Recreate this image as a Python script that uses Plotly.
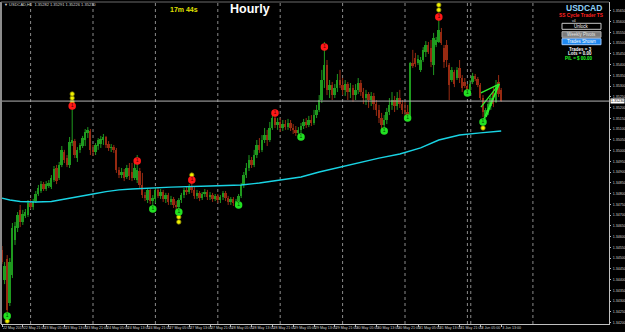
import plotly.graph_objects as go

# ---------------- data (USDCAD, H1) ----------------
bar_index = list(range(193))

open_ = [1.34538,1.34398,1.34496,1.34291,1.34421,1.34584,1.34640,1.34724,1.34668,1.34696,
1.34700,1.34756,1.34737,1.34765,1.34798,1.34812,1.34844,1.34821,1.34835,1.34830,
1.34863,1.34919,1.34872,1.34933,1.34993,1.34965,1.34933,1.35035,1.35044,1.34965,
1.35003,1.35021,1.35049,1.35082,1.35091,1.35003,1.34993,1.35021,1.35030,1.35049,
1.35063,1.35030,1.35012,1.35016,1.35003,1.34910,1.34886,1.34900,1.34877,1.34919,
1.34900,1.34872,1.34863,1.34905,1.34840,1.34793,1.34770,1.34817,1.34765,1.34775,
1.34817,1.34789,1.34807,1.34775,1.34793,1.34761,1.34775,1.34747,1.34737,1.34770,
1.34793,1.34817,1.34807,1.34835,1.34817,1.34789,1.34803,1.34779,1.34798,1.34807,
1.34784,1.34793,1.34775,1.34789,1.34770,1.34784,1.34803,1.34779,1.34761,1.34775,
1.34756,1.34765,1.34789,1.34840,1.34886,1.34919,1.34956,1.34933,1.34979,1.35026,
1.35003,1.35049,1.35072,1.35049,1.35105,1.35151,1.35119,1.35133,1.35105,1.35123,
1.35109,1.35128,1.35105,1.35096,1.35082,1.35096,1.35114,1.35133,1.35119,1.35142,
1.35128,1.35165,1.35189,1.35235,1.35328,1.35398,1.35282,1.35305,1.35258,1.35291,
1.35328,1.35305,1.35282,1.35309,1.35272,1.35291,1.35258,1.35282,1.35314,1.35272,
1.35244,1.35263,1.35235,1.35254,1.35216,1.35189,1.35151,1.35119,1.35142,1.35179,
1.35212,1.35235,1.35207,1.35244,1.35216,1.35189,1.35179,1.35165,1.35407,1.35430,
1.35407,1.35375,1.35421,1.35458,1.35491,1.35477,1.35398,1.35491,1.35505,1.35551,
1.35477,1.35491,1.35398,1.35328,1.35365,1.35337,1.35384,1.35337,1.35319,1.35300,
1.35282,1.35319,1.35347,1.35333,1.35305,1.35244,1.35161,1.35179,1.35207,1.35272,
1.35226,1.35319,1.35282]

high = [1.34556,1.34482,1.34514,1.34500,1.34663,1.34668,1.34714,1.34747,1.34724,1.34728,
1.34770,1.34775,1.34775,1.34812,1.34840,1.34858,1.34854,1.34858,1.34863,1.34886,
1.34928,1.34933,1.34947,1.35021,1.35003,1.34979,1.35063,1.35207,1.35054,1.35016,
1.35035,1.35068,1.35100,1.35109,1.35100,1.35026,1.35035,1.35058,1.35068,1.35077,
1.35068,1.35044,1.35030,1.35026,1.35012,1.34923,1.34919,1.34914,1.34933,1.34942,
1.34942,1.34956,1.34979,1.34919,1.34896,1.34807,1.34826,1.34821,1.34793,1.34826,
1.34830,1.34821,1.34817,1.34803,1.34803,1.34789,1.34784,1.34765,1.34779,1.34803,
1.34826,1.34835,1.34844,1.34858,1.34830,1.34817,1.34812,1.34807,1.34821,1.34817,
1.34807,1.34803,1.34798,1.34798,1.34793,1.34812,1.34812,1.34789,1.34784,1.34784,
1.34775,1.34798,1.34849,1.34900,1.34942,1.34979,1.34970,1.35003,1.35049,1.35058,
1.35072,1.35105,1.35096,1.35133,1.35179,1.35189,1.35151,1.35151,1.35142,1.35142,
1.35147,1.35142,1.35123,1.35114,1.35109,1.35128,1.35147,1.35151,1.35161,1.35165,
1.35189,1.35212,1.35258,1.35375,1.35505,1.35421,1.35328,1.35319,1.35309,1.35356,
1.35375,1.35337,1.35328,1.35319,1.35314,1.35305,1.35309,1.35337,1.35328,1.35291,
1.35282,1.35272,1.35272,1.35268,1.35235,1.35212,1.35175,1.35165,1.35198,1.35244,
1.35272,1.35254,1.35272,1.35282,1.35235,1.35226,1.35212,1.35412,1.35468,1.35454,
1.35444,1.35435,1.35481,1.35509,1.35505,1.35514,1.35547,1.35528,1.35607,1.35570,
1.35491,1.35514,1.35407,1.35388,1.35375,1.35388,1.35421,1.35351,1.35337,1.35309,
1.35328,1.35361,1.35356,1.35342,1.35314,1.35258,1.35198,1.35226,1.35254,1.35295,
1.35328,1.35351,1.35291]

low = [1.34472,1.34379,1.34245,1.34277,1.34407,1.34561,1.34621,1.34644,1.34654,1.34686,
1.34691,1.34728,1.34724,1.34756,1.34789,1.34803,1.34812,1.34812,1.34826,1.34821,
1.34854,1.34844,1.34863,1.34923,1.34942,1.34923,1.34919,1.35021,1.34965,1.34947,
1.34989,1.35012,1.35021,1.35058,1.34979,1.34975,1.34979,1.35003,1.35012,1.35026,
1.35012,1.34998,1.34993,1.34989,1.34896,1.34872,1.34872,1.34858,1.34868,1.34863,
1.34858,1.34863,1.34849,1.34826,1.34779,1.34765,1.34756,1.34751,1.34742,1.34756,
1.34779,1.34775,1.34761,1.34756,1.34747,1.34747,1.34733,1.34724,1.34719,1.34756,
1.34779,1.34793,1.34798,1.34803,1.34775,1.34775,1.34765,1.34770,1.34784,1.34770,
1.34770,1.34761,1.34765,1.34756,1.34756,1.34770,1.34765,1.34747,1.34747,1.34742,
1.34742,1.34751,1.34779,1.34826,1.34872,1.34905,1.34919,1.34923,1.34965,1.34989,
1.34993,1.35035,1.35021,1.35040,1.35096,1.35105,1.35096,1.35086,1.35091,1.35096,
1.35096,1.35091,1.35077,1.35068,1.35068,1.35077,1.35100,1.35105,1.35109,1.35114,
1.35119,1.35151,1.35179,1.35221,1.35291,1.35258,1.35244,1.35235,1.35244,1.35272,
1.35291,1.35258,1.35254,1.35235,1.35244,1.35226,1.35235,1.35263,1.35254,1.35216,
1.35212,1.35198,1.35207,1.35189,1.35161,1.35128,1.35096,1.35100,1.35123,1.35165,
1.35189,1.35179,1.35189,1.35198,1.35170,1.35161,1.35156,1.35156,1.35384,1.35388,
1.35398,1.35365,1.35412,1.35435,1.35449,1.35388,1.35351,1.35481,1.35500,1.35491,
1.35384,1.35388,1.35235,1.35319,1.35295,1.35328,1.35314,1.35272,1.35291,1.35263,
1.35272,1.35309,1.35323,1.35295,1.35235,1.35156,1.35147,1.35165,1.35189,1.35202,
1.35221,1.35249,1.35226]

close = [1.34482,1.34463,1.34259,1.34482,1.34640,1.34649,1.34700,1.34668,1.34705,1.34714,
1.34756,1.34737,1.34761,1.34798,1.34826,1.34844,1.34821,1.34844,1.34849,1.34872,
1.34914,1.34858,1.34933,1.35003,1.34956,1.34933,1.35040,1.35049,1.34979,1.35003,
1.35026,1.35058,1.35086,1.35096,1.35003,1.34993,1.35026,1.35049,1.35054,1.35063,
1.35026,1.35012,1.35016,1.35003,1.34910,1.34886,1.34900,1.34872,1.34919,1.34882,
1.34872,1.34919,1.34910,1.34840,1.34793,1.34779,1.34817,1.34765,1.34779,1.34817,
1.34789,1.34807,1.34775,1.34793,1.34761,1.34775,1.34747,1.34737,1.34770,1.34793,
1.34817,1.34807,1.34835,1.34817,1.34789,1.34803,1.34779,1.34798,1.34807,1.34784,
1.34793,1.34775,1.34789,1.34770,1.34784,1.34803,1.34779,1.34761,1.34775,1.34756,
1.34765,1.34789,1.34840,1.34886,1.34919,1.34956,1.34933,1.34979,1.35026,1.35003,
1.35049,1.35072,1.35049,1.35105,1.35151,1.35119,1.35133,1.35105,1.35123,1.35109,
1.35128,1.35105,1.35096,1.35082,1.35096,1.35114,1.35133,1.35119,1.35142,1.35128,
1.35165,1.35189,1.35235,1.35328,1.35398,1.35282,1.35305,1.35258,1.35291,1.35328,
1.35305,1.35282,1.35309,1.35272,1.35291,1.35258,1.35282,1.35314,1.35272,1.35244,
1.35263,1.35235,1.35254,1.35216,1.35189,1.35151,1.35119,1.35142,1.35179,1.35212,
1.35235,1.35207,1.35244,1.35216,1.35189,1.35179,1.35165,1.35407,1.35393,1.35402,
1.35426,1.35421,1.35468,1.35491,1.35458,1.35412,1.35523,1.35514,1.35561,1.35500,
1.35412,1.35421,1.35305,1.35375,1.35309,1.35375,1.35337,1.35291,1.35300,1.35282,
1.35309,1.35347,1.35333,1.35305,1.35244,1.35179,1.35189,1.35216,1.35244,1.35216,
1.35305,1.35263,1.35230]

# moving average (cyan) read at a few bars
ma_bars = [0, 3, 7, 13, 19, 25, 30, 35, 40, 45, 50, 56, 65, 80, 92, 99, 107, 115,
           122, 130, 138, 145, 153, 161, 168, 176, 184, 192]
ma_values = [1.34779, 1.34770, 1.34763, 1.34761, 1.34763, 1.34775, 1.34785, 1.34798,
             1.34809, 1.34817, 1.34821, 1.34826, 1.34830, 1.34835, 1.34840, 1.34849,
             1.34863, 1.34877, 1.34900, 1.34923, 1.34947, 1.34965, 1.34984, 1.35012,
             1.35049, 1.35072, 1.35082, 1.35091]

# signal dots
red_bars = [27, 52, 73, 105, 124, 168]
red_prices = [1.35207, 1.34951, 1.34863, 1.35175, 1.35481, 1.35621]
green_bars = [2, 58, 68, 91, 115, 147, 156, 179, 185]
green_prices = [1.34231, 1.34728, 1.34714, 1.34747, 1.35063, 1.35091, 1.35151, 1.35268, 1.35133]
yellow_bars = [27, 27, 27, 68, 68, 73, 168, 168, 185, 2]
yellow_prices = [1.35226, 1.35244, 1.35263, 1.34691, 1.34668, 1.34886, 1.35654, 1.35677,
                 1.35105, 1.34207]

# green fan drawn on the last bars
fan_apex = (191.2, 1.35309)
fan_end_bars = [184.2, 184.2, 185.0, 186.2]
fan_end_prices = [1.35268, 1.35202, 1.35137, 1.35156]

# time axis labels (every 8 bars)
time_label_bars = list(range(0, 193, 8))
time_labels = ["22 May 2019", "22 May 21:00", "23 May 05:00", "23 May 13:00", "23 May 21:00",
               "24 May 05:00", "24 May 13:00", "24 May 21:00", "27 May 05:00", "27 May 13:00",
               "27 May 21:00", "28 May 05:00", "28 May 13:00", "28 May 21:00", "29 May 05:00",
               "29 May 13:00", "29 May 21:00", "30 May 05:00", "30 May 13:00", "30 May 21:00",
               "31 May 05:00", "31 May 13:00", "31 May 21:00", "3 Jun 05:00", "3 Jun 13:00"]
day_start_bars = [11, 35, 59, 83, 107, 131, 155, 179]
extra_sep_bars = [180.3, 204.2]

price_ticks = [round(1.3420 + 0.0005 * k, 4) for k in range(30)]
last_price = close[-1]

# ---------------- figure ----------------
BULL = "#1f9a1f"
BEAR = "#982a12"

fig = go.Figure()

# wicks
for is_bull, col in ((True, BULL), (False, BEAR)):
    xs, ys = [], []
    for i in bar_index:
        if (close[i] >= open_[i]) == is_bull:
            xs += [i, i, None]
            ys += [low[i], high[i], None]
    fig.add_trace(go.Scatter(x=xs, y=ys, mode="lines", line=dict(color=col, width=1),
                             hoverinfo="skip", showlegend=False))

# bodies
fig.add_trace(go.Bar(
    x=bar_index,
    base=[min(o, c) for o, c in zip(open_, close)],
    y=[max(abs(c - o), 0.00002) for o, c in zip(open_, close)],
    width=0.75,
    marker=dict(color=[BULL if c >= o else BEAR for o, c in zip(open_, close)], line=dict(width=0)),
    hoverinfo="skip", showlegend=False))

# moving average
fig.add_trace(go.Scatter(x=ma_bars, y=ma_values, mode="lines",
                         line=dict(color="#19d4e4", width=1.4), hoverinfo="skip", showlegend=False))

# fan lines
fx, fy = [], []
for b, p in zip(fan_end_bars, fan_end_prices):
    fx += [fan_apex[0], b, None]
    fy += [fan_apex[1], p, None]
fig.add_trace(go.Scatter(x=fx, y=fy, mode="lines", line=dict(color="#2ef02e", width=1.3),
                         hoverinfo="skip", showlegend=False))

# signal dots
fig.add_trace(go.Scatter(x=yellow_bars, y=yellow_prices, mode="markers",
                         marker=dict(color="#f0f000", size=4.5, line=dict(color="#707000", width=0.8)),
                         hoverinfo="skip", showlegend=False))
fig.add_trace(go.Scatter(x=red_bars, y=red_prices, mode="markers+text", text=["1"] * len(red_bars),
                         textposition="middle center", textfont=dict(size=5, color="#500000"),
                         marker=dict(color="#ff1818", size=7.5, line=dict(width=0)),
                         hoverinfo="skip", showlegend=False))
fig.add_trace(go.Scatter(x=green_bars, y=green_prices, mode="markers+text", text=["1"] * len(green_bars),
                         textposition="middle center", textfont=dict(size=5, color="#004400"),
                         marker=dict(color="#22e022", size=7.5, line=dict(width=0)),
                         hoverinfo="skip", showlegend=False))

def px_x(p):
    return (p - 1) / 608.0

def px_y(p):
    return (324 - p) / 322.0

shapes = []
for b in day_start_bars + extra_sep_bars:
    shapes.append(dict(type="line", xref="x", yref="paper", x0=b, x1=b, y0=0, y1=1,
                       line=dict(color="#8a8a8a", width=1, dash="dot"), layer="below"))
# bid line
shapes.append(dict(type="line", xref="paper", yref="y", x0=0, x1=1, y0=last_price, y1=last_price,
                   line=dict(color="#b4b4b4", width=1)))
# frame left/top
shapes.append(dict(type="line", xref="paper", yref="paper", x0=0, x1=0, y0=0, y1=1,
                   line=dict(color="#8c8c8c", width=2)))
shapes.append(dict(type="line", xref="paper", yref="paper", x0=0, x1=1, y0=1, y1=1,
                   line=dict(color="#6a6a6a", width=1)))
# panel buttons
btns = [("Unlock", 23.3, 29.3, "#000000", "#c8c8c8", "#ffffff"),
        ("Weekly Pivots", 31.7, 37.3, "#7c7c7c", "#b0b0b0", "#e8e8e8"),
        ("Trades Shown", 38.7, 44.7, "#1e88f0", "#9ac8ff", "#ffffff")]
annotations = []
for label, t, b, fill, edge, tc in btns:
    shapes.append(dict(type="rect", xref="paper", yref="paper", x0=px_x(562), x1=px_x(601),
                       y0=px_y(b), y1=px_y(t), fillcolor=fill, line=dict(color=edge, width=1)))
    annotations.append(dict(xref="paper", yref="paper", x=px_x(581.5), y=px_y((t + b) / 2), text=label,
                            showarrow=False, font=dict(size=4.5, color=tc, family="Liberation Sans"),
                            xanchor="center", yanchor="middle"))

def txt(x, y, s, size, color, bold=False, xanchor="center"):
    annotations.append(dict(xref="paper", yref="paper", x=px_x(x), y=px_y(y),
                            text=("<b>%s</b>" % s) if bold else s, showarrow=False,
                            font=dict(size=size, color=color, family="Liberation Sans"),
                            xanchor=xanchor, yanchor="middle", borderpad=0))

txt(3, 5, "\u25bc USDCAD,H1  1.35282 1.35291 1.35226 1.35230", 4, "#d8d8d8", xanchor="left")
txt(183.5, 9.5, "17m 44s", 7, "#e0e000", bold=True)
txt(250, 9, "Hourly", 12.5, "#ffffff", bold=True)
txt(584, 7.8, "USDCAD", 8.5, "#8fd0f8", bold=True)
txt(581.5, 15.6, "SS Cycle Trader TS", 4.8, "#ff2020", bold=True)
txt(574, 20.8, "v4", 3.5, "#e0e0e0")
txt(580, 49, "Trades = 3", 4.5, "#ffffff", bold=True)
txt(580, 54, "Lots = 0.00", 4.5, "#ffffff", bold=True)
txt(578.5, 59, "P/L = $ 00.00", 4.5, "#22ff22", bold=True)

# current price box on the price scale
annotations.append(dict(xref="paper", yref="y", x=1, y=last_price, xanchor="left", yanchor="middle",
                        xshift=1, text="%.5f" % last_price, showarrow=False, bgcolor="#ffffff",
                        borderpad=0, font=dict(size=3.7, color="#000000", family="Liberation Sans")))

fig.update_layout(
    width=625, height=332,
    margin=dict(l=1, r=16, t=2, b=8, autoexpand=False),
    paper_bgcolor="#000000", plot_bgcolor="#000000",
    showlegend=False, barmode="overlay", bargap=0,
    shapes=shapes, annotations=annotations,
    font=dict(family="Liberation Sans", color="#d0d0d0"),
    xaxis=dict(range=[-0.385, 233.46], showgrid=False, zeroline=False, showline=True,
               linecolor="#c0c0c0", linewidth=1, tickmode="array", tickvals=time_label_bars,
               ticktext=time_labels, ticks="outside", ticklen=2, tickcolor="#c0c0c0",
               ticklabelposition="outside right", tickangle=0, automargin=False,
               tickfont=dict(size=3.6, color="#d0d0d0"), fixedrange=True),
    yaxis=dict(range=[1.341934, 1.356907], side="right", showgrid=False, zeroline=False,
               showline=True, linecolor="#c0c0c0", linewidth=1, tickmode="array",
               tickvals=price_ticks, ticktext=["%.5f" % v for v in price_ticks], ticks="outside",
               ticklen=1, tickcolor="#c0c0c0", tickfont=dict(size=3.6, color="#d0d0d0"),
               ticklabelstandoff=1, automargin=False, fixedrange=True),
)

fig.write_html("out.html")
